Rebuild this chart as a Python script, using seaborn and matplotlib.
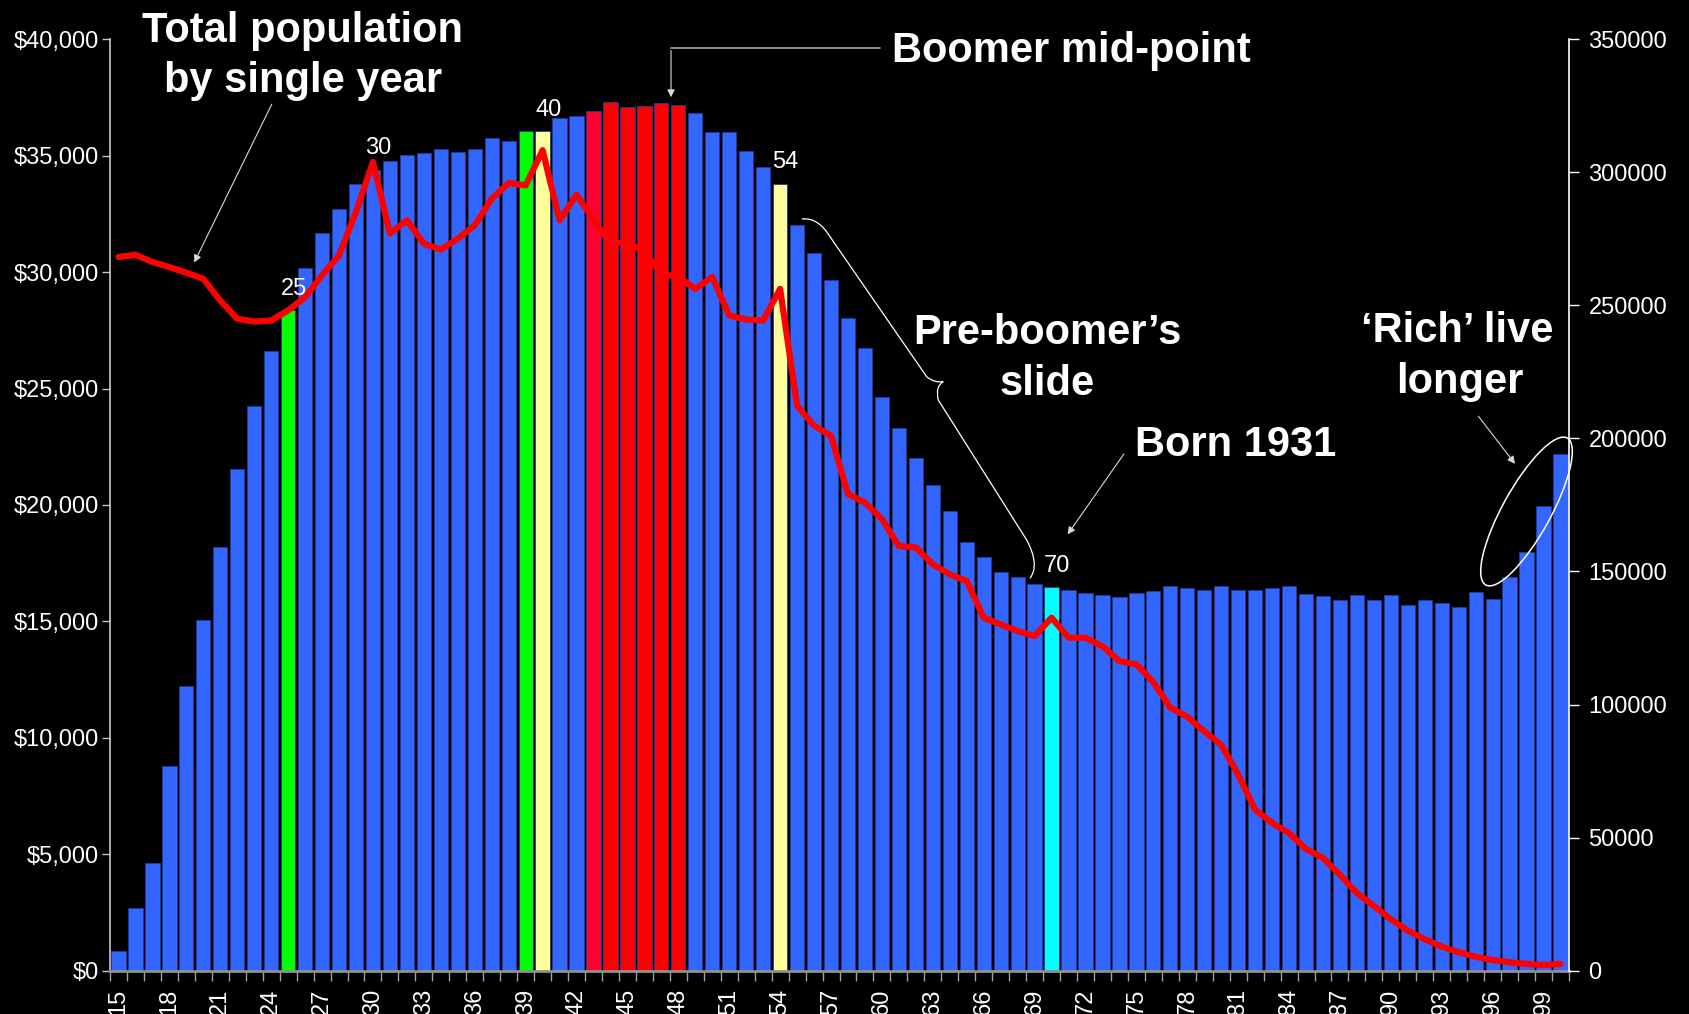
import numpy as np
import pandas as pd
import seaborn as sns
import matplotlib.pyplot as plt
from matplotlib.lines import Line2D
from matplotlib.patches import Ellipse, PathPatch
from matplotlib.path import Path
from matplotlib.transforms import IdentityTransform

# ages 15..100, one bar per single year of age
ages = list(range(15, 101))

# bars: income by age (left axis, $)
income = [850, 2710, 4630, 8800, 12230, 15040, 18210, 21540, 24240, 26600,
          28380, 30190, 31670, 32720, 33800, 34400, 34790, 35010, 35120, 35300,
          35180, 35300, 35750, 35650, 36050, 36050, 36630, 36720, 36900, 37320,
          37100, 37150, 37280, 37190, 36850, 36010, 36010, 35210, 34520, 33800,
          32010, 30820, 29650, 28030, 26740, 24630, 23310, 22030, 20850, 19750,
          18390, 17770, 17120, 16920, 16590, 16480, 16340, 16210, 16120, 16060,
          16210, 16310, 16510, 16450, 16330, 16520, 16330, 16330, 16420, 16510,
          16160, 16090, 15900, 16150, 15900, 16120, 15700, 15900, 15800, 15630,
          16280, 15980, 16910, 17980, 19950, 22170]

# red line: total population by single year (right axis)
population = [268200, 269000, 266300, 264400, 262300, 260000, 251800, 245000, 243900, 244300,
              248100, 253100, 261300, 268800, 285100, 303900, 277000, 282000, 273200, 271000,
              275100, 280100, 290100, 296000, 295100, 308300, 282000, 291600, 282200, 273200,
              273800, 270100, 261900, 260700, 256200, 260700, 246200, 244700, 244300, 256200,
              212300, 204800, 201000, 179100, 175900, 169700, 159600, 159000, 152700, 148900,
              146400, 132600, 130100, 127600, 125700, 132600, 125100, 125100, 121900, 116300,
              115100, 108400, 98800, 95400, 89900, 84900, 73600, 60500, 55500, 51700,
              45700, 42300, 36000, 29100, 24300, 19300, 15000, 11800, 9000, 6900,
              5200, 4000, 3100, 2500, 2100, 2500]

highlight = {25: '#00FF00', 39: '#00FF00', 40: '#FFFF99', 54: '#FFFF99',
             43: '#FF0033', 44: '#FF0000', 45: '#FF0000', 46: '#FF0000',
             47: '#FF0000', 48: '#FF0000', 70: '#00FFFF'}
labelled_ages = [25, 30, 40, 54, 70]

sns.set_style('ticks')
plt.rcParams['font.family'] = ['Liberation Sans', 'DejaVu Sans']

W, H = 1689, 1014
def fp(x, y):
    # pixel (y down) -> figure fraction
    return x / W, 1 - y / H

fig = plt.figure(figsize=(W / 100, H / 100), dpi=100, facecolor='black')
ax = fig.add_axes([110 / W, 43.4 / H, 1459 / W, 931.3 / H])
ax.set_facecolor('black')

pos = np.arange(len(ages))
df = pd.DataFrame({'pos': pos, 'age': ages, 'income': income, 'pop': population})
palette = {i: highlight.get(a, '#3366FF') for i, a in zip(pos, ages)}

sns.barplot(data=df, x='pos', y='income', hue='pos', palette=palette, legend=False,
            saturation=1, width=0.84, edgecolor='#1E3C9E', linewidth=0.6, ax=ax)

ax.set_xlim(-0.5, len(ages) - 0.5)
ax.set_ylim(0, 40000)
ax.set_yticks(range(0, 40001, 5000))
ax.set_yticklabels(['${:,}'.format(v) for v in range(0, 40001, 5000)])
ax.set_xticks(pos[::3])
ax.set_xticklabels([str(a) for a in ages[::3]])
ax.set_xticks(np.arange(-0.5, len(ages), 1), minor=True)
ax.tick_params(axis='x', which='major', length=0, pad=13, labelsize=17,
               labelrotation=90, labelcolor='white')
ax.tick_params(axis='x', which='minor', length=7, width=1, color='#A0A0A0')
ax.tick_params(axis='y', length=6, width=1, color='#C8C8C8', pad=2,
               labelsize=17, labelcolor='white')
ax.set_xlabel('')
ax.set_ylabel('')
for s in ['top', 'right']:
    ax.spines[s].set_visible(False)
ax.spines['left'].set_color('#C8C8C8')
ax.spines['left'].set_linewidth(1.2)
ax.spines['bottom'].set_color('#909090')
ax.spines['bottom'].set_linewidth(2)

for a in labelled_ages:
    i = a - 15
    ax.annotate(str(a), xy=(i, income[i]), xytext=(4, 11), textcoords='offset points',
                ha='center', va='baseline', color='white', fontsize=17)

ax2 = ax.twinx()
sns.lineplot(data=df, x='pos', y='pop', ax=ax2, color='#FF0000', linewidth=4.5,
             solid_joinstyle='round', solid_capstyle='round')
ax2.set_ylim(0, 350000)
ax2.set_yticks(range(0, 350001, 50000))
ax2.set_yticklabels([str(v) for v in range(0, 350001, 50000)])
ax2.tick_params(axis='y', length=7, width=1, color='white', pad=7,
                labelsize=17, labelcolor='white')
ax2.set_ylabel('')
ax2.set_xlabel('')
for s in ['top', 'left', 'bottom']:
    ax2.spines[s].set_visible(False)
ax2.spines['right'].set_color('white')
ax2.spines['right'].set_linewidth(1.2)
ax.set_xlim(-0.5, len(ages) - 0.5)

# headline annotations
big = dict(fontsize=30, fontweight='bold', color='white', va='baseline')
fig.text(*fp(303, 41.7), 'Total population', ha='center', **big)
fig.text(*fp(303, 91.7), 'by single year', ha='center', **big)
fig.text(*fp(892, 61.7), 'Boomer mid-point', ha='left', **big)
fig.text(*fp(1047, 344), 'Pre-boomer\u2019s', ha='center', **big)
fig.text(*fp(1047, 395), 'slide', ha='center', **big)
fig.text(*fp(1135, 455.7), 'Born 1931', ha='left', **big)
fig.text(*fp(1457, 341.7), '\u2018Rich\u2019 live', ha='center', **big)
fig.text(*fp(1460, 393), 'longer', ha='center', **big)

arrow = dict(arrowstyle='-|>', color='#D8D8D8', lw=0.8, mutation_scale=11)
def pointer(start, tip):
    ax2.annotate('', xy=fp(*tip), xytext=fp(*start), xycoords='figure fraction',
                 textcoords='figure fraction', arrowprops=arrow)

pointer((273, 101.7), (193, 265))
pointer((671, 47.7), (671, 100))
pointer((1125.5, 451.7), (1066, 536.7))
pointer((1476.7, 414), (1516.7, 466))
fig.add_artist(Line2D([880 / W, 671 / W], [1 - 47.7 / H, 1 - 47.7 / H],
                      transform=fig.transFigure, color='#A8A8A8', lw=1.2))

# curly brace for the pre-boomer slide
brace_pts = [(801.7, 219), (818, 217), (830, 236.7), (926.7, 376.7), (934, 383),
             (943.3, 381.7), (935, 386), (938.3, 400), (1026.7, 540), (1040, 565),
             (1030, 578.3)]
codes = [Path.MOVETO, Path.CURVE3, Path.CURVE3, Path.LINETO, Path.CURVE3, Path.CURVE3,
         Path.CURVE3, Path.CURVE3, Path.LINETO, Path.CURVE3, Path.CURVE3]
fig.add_artist(PathPatch(Path([fp(x, y) for x, y in brace_pts], codes),
                         transform=fig.transFigure, fill=False, edgecolor='white', lw=0.9))

# ellipse around the oldest ages
fig.add_artist(Ellipse((1526.5, H - 511.5), 168, 48, angle=61, transform=IdentityTransform(),
                       fill=False, edgecolor='white', lw=1.1))

fig.savefig('out.png', dpi=100, facecolor='black')
